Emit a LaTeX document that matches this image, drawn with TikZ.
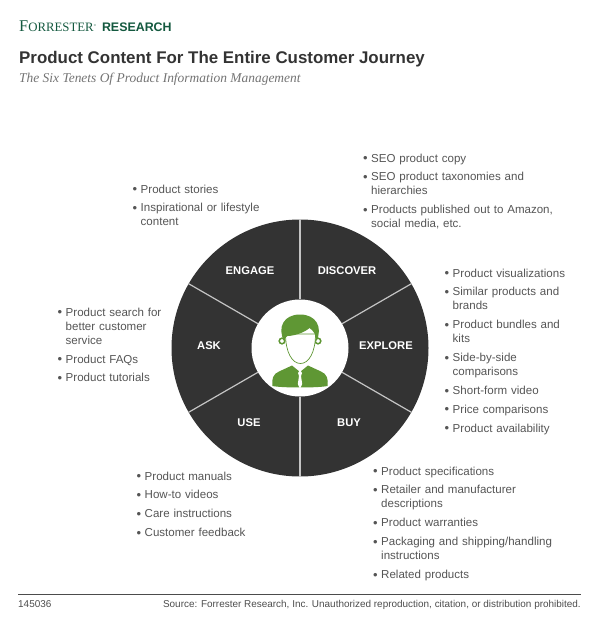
\documentclass[tikz,border=0pt]{standalone}
\usepackage{fontspec}
\setmainfont{Liberation Sans}
\newfontfamily\serifface{Liberation Serif}
\usetikzlibrary{positioning}
\definecolor{wheeldark}{HTML}{333333}
\definecolor{spokegray}{HTML}{C4C4C4}
\definecolor{persongreen}{HTML}{5F9734}
\definecolor{brandgreen}{HTML}{14593F}
\definecolor{bodygray}{HTML}{555555}
\newcommand{\bitem}[1]{\parskip=4.7pt\hangindent=8pt\hangafter=1\noindent\makebox[8pt][l]{\strut\raisebox{-.6pt}{\fontsize{13}{13}\selectfont\textbullet}}#1\par}
\tikzset{
  itemlist/.style={anchor=north west, inner sep=0pt, text=bodygray, text width=#1,
    font=\fontsize{11.55}{14.1}\selectfont},
  tenet/.style={text=white, inner sep=0pt, font=\fontsize{11.2}{13}\selectfont\bfseries},
  ring/.style={circle, inner sep=0pt, minimum size=#1},
  spoke/.style={draw=spokegray, line width=1.2pt},
}
\begin{document}
\begin{tikzpicture}[x=1pt,y=-1pt]
  \useasboundingbox (0,0) rectangle (600,629);
  % heading
  \node[anchor=base west, inner sep=0pt, text=brandgreen] (brand) at (19,31)
    {{\serifface\fontsize{16.4}{17}\selectfont F\fontsize{12.8}{17}\selectfont ORRESTER\raisebox{4.5pt}{\fontsize{3}{3}\selectfont ®}}\hspace{6pt}{\fontsize{12.4}{17}\selectfont\bfseries RESEARCH}};
  \node[anchor=base west, inner sep=0pt, text=black!80, font=\fontsize{16.9}{20}\selectfont\bfseries] (title) at (19,63)
    {Product Content For The Entire Customer Journey};
  \node[anchor=base west, inner sep=0pt, text=black!55, font=\serifface\fontsize{13.45}{16}\selectfont\itshape] (subtitle) at (19,82)
    {The Six Tenets Of Product Information Management};
  % wheel
  \node[ring=257pt, fill=wheeldark] (wheel) at (300,348) {};
  \node[ring=97pt, fill=white] (hub) at (300,348) {};
  \foreach \a in {30,90,...,330}
    \draw[spoke] (hub.\a) -- (wheel.\a);
  \node[tenet] (engage) at (250,270.5) {ENGAGE};
  \node[tenet] (discover) at (347,270.5) {DISCOVER};
  \node[tenet] (explore) at (386,346) {EXPLORE};
  \node[tenet] (buy) at (349,423) {BUY};
  \node[tenet] (use) at (249,423) {USE};
  \node[tenet] (ask) at (209,346) {ASK};
  % person
  \fill[persongreen] (272.5,386) .. controls (271.5,379) and (273,374) .. (279,371.5)
    -- (292,365.5) -- (300,372) -- (308,365.5) -- (321,371.5)
    .. controls (327,374) and (328.5,379) .. (327.5,386)
    .. controls (318,388) and (282,388) .. (272.5,386) -- cycle;
  \draw[white, line width=.8pt] (293,363) -- (299,369) -- (306,363);
  \fill[white] (300,370) -- (302,373) -- (301,376) -- (302.2,384) -- (300,389) -- (297.8,384) -- (299,376) -- (298,373) -- cycle;
  \draw[persongreen, fill=white, line width=1.5pt] (282,341) circle (2.8);
  \draw[persongreen, fill=white, line width=1.5pt] (318,341) circle (2.8);
  \draw[persongreen, fill=white, line width=.7pt] (285.5,334) .. controls (285.5,352) and (292,363.5) .. (300.5,363.5)
    .. controls (309,363.5) and (315.5,352) .. (315.5,334) -- cycle;
  \fill[persongreen] (284,341) .. controls (277,327) and (284,314.5) .. (300,314.5)
    .. controls (316,314.5) and (323,327) .. (316.5,341)
    .. controls (316,335) and (314,331) .. (309.5,328)
    .. controls (304,333) and (293,336) .. (287.5,336)
    .. controls (285.5,337) and (284.5,339) .. (284,341) -- cycle;
  % lists
  \node[itemlist=210pt] (discoverlist) at (363,152) {%
    \bitem{SEO product copy}
    \bitem{SEO product taxonomies and\newline hierarchies}
    \bitem{Products published out to Amazon,\newline social media, etc.}};
  \node[itemlist=140pt] (explorelist) at (444.5,267) {%
    \bitem{Product visualizations}
    \bitem{Similar products and\newline brands}
    \bitem{Product bundles and\newline kits}
    \bitem{Side-by-side\newline comparisons}
    \bitem{Short-form video}
    \bitem{Price comparisons}
    \bitem{Product availability}};
  \node[itemlist=210pt] (buylist) at (373,465) {%
    \bitem{Product specifications}
    \bitem{Retailer and manufacturer\newline descriptions}
    \bitem{Product warranties}
    \bitem{Packaging and shipping/handling\newline instructions}
    \bitem{Related products}};
  \node[itemlist=120pt] (uselist) at (136.5,470) {%
    \bitem{Product manuals}
    \bitem{How-to videos}
    \bitem{Care instructions}
    \bitem{Customer feedback}};
  \node[itemlist=120pt] (asklist) at (57.5,306) {%
    \bitem{Product search for\newline better customer\newline service}
    \bitem{Product FAQs}
    \bitem{Product tutorials}};
  \node[itemlist=130pt] (engagelist) at (132.5,183) {%
    \bitem{Product stories}
    \bitem{Inspirational or lifestyle\newline content}};
  % footer
  \coordinate (ruleleft) at (18,594.5);
  \coordinate (ruleright) at (581,594.5);
  \draw[black!70, line width=.8pt] (ruleleft) -- (ruleright);
  \node[anchor=base west, inner sep=0pt, text=black!70, font=\fontsize{9.95}{11}\selectfont] (jobno) at (18,607.5) {145036};
  \node[anchor=base east, inner sep=0pt, text=black!70, font=\fontsize{9.95}{11}\selectfont] (source) at (581,607.5)
    {Source: Forrester Research, Inc. Unauthorized reproduction, citation, or distribution prohibited.};
\end{tikzpicture}
\end{document}
